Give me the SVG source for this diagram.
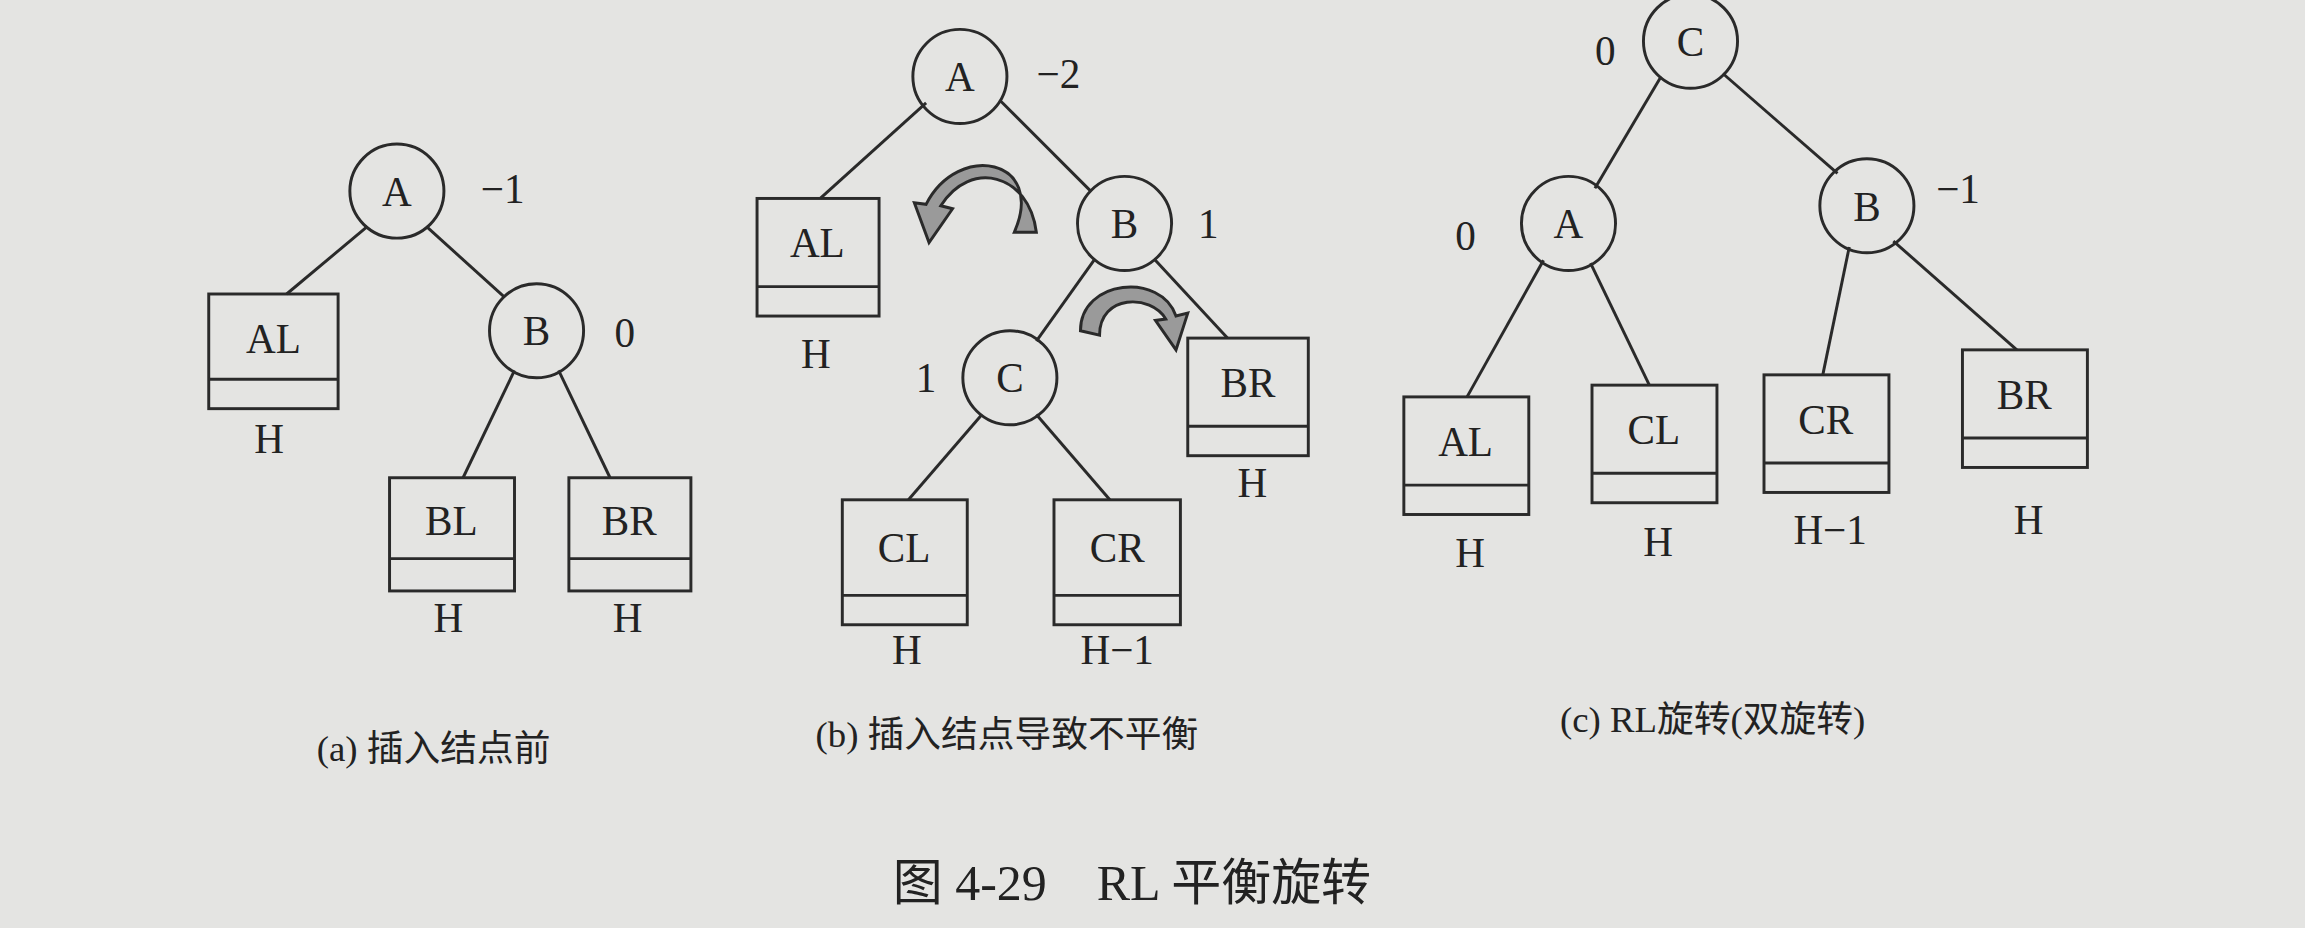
<svg xmlns="http://www.w3.org/2000/svg" width="2305" height="928" viewBox="0 0 2305 928">
<style>
.n circle{fill:none;stroke:#2a2a2a;stroke-width:2}
.b rect,.b line{fill:none;stroke:#2a2a2a;stroke-width:2}
#edges line{stroke:#2a2a2a;stroke-width:2}
text{font-family:"Liberation Serif","Noto Sans CJK SC",serif;fill:#222;font-size:28px;text-anchor:middle}
.cap{font-size:25px}
.ttl{font-size:34px}
.arr{fill:#9a9a9a;stroke:#2a2a2a;stroke-width:2}
</style>
<rect width="2305" height="928" fill="#e4e4e2"/>
<g transform="scale(1.47)">
<g id="edges">
<line x1="250" y1="154" x2="195" y2="200"/><line x1="290" y1="154" x2="343" y2="202"/>
<line x1="350" y1="252" x2="315" y2="325"/><line x1="380" y1="252" x2="415" y2="325"/>
<line x1="630" y1="70" x2="558" y2="135"/><line x1="680" y1="68" x2="742" y2="130"/>
<line x1="745" y1="176" x2="705" y2="232"/><line x1="785" y1="176" x2="835" y2="230"/>
<line x1="668" y1="282" x2="618" y2="340"/><line x1="705" y1="282" x2="755" y2="340"/>
<line x1="1130" y1="52" x2="1085" y2="128"/><line x1="1172" y1="50" x2="1250" y2="118"/>
<line x1="1050" y1="177" x2="998" y2="270"/><line x1="1082" y1="179" x2="1122" y2="262"/>
<line x1="1258" y1="168" x2="1240" y2="255"/><line x1="1288" y1="164" x2="1372" y2="238"/>
</g>
<g id="nA1" class="n"><circle cx="270" cy="130" r="32"/><text x="270" y="140">A</text><text x="342" y="138">−1</text></g>
<g id="nB1" class="n"><circle cx="365" cy="225" r="32"/><text x="365" y="235">B</text><text x="425" y="236">0</text></g>
<g id="bAL1" class="b"><rect x="142" y="200" width="88" height="78"/><line x1="142" y1="258" x2="230" y2="258"/><text x="186" y="240">AL</text><text x="183" y="308">H</text></g>
<g id="bBL1" class="b"><rect x="265" y="325" width="85" height="77"/><line x1="265" y1="380" x2="350" y2="380"/><text x="307" y="364">BL</text><text x="305" y="430">H</text></g>
<g id="bBR1" class="b"><rect x="387" y="325" width="83" height="77"/><line x1="387" y1="380" x2="470" y2="380"/><text x="428" y="364">BR</text><text x="427" y="430">H</text></g>
<text class="cap" x="295" y="518">(a) 插入结点前</text>

<g id="nA2" class="n"><circle cx="653" cy="52" r="32"/><text x="653" y="62">A</text><text x="720" y="60">−2</text></g>
<g id="nB2" class="n"><circle cx="765" cy="152" r="32"/><text x="765" y="162">B</text><text x="822" y="162">1</text></g>
<g id="nC2" class="n"><circle cx="687" cy="257" r="32"/><text x="687" y="267">C</text><text x="630" y="267">1</text></g>
<g id="bAL2" class="b"><rect x="515" y="135" width="83" height="80"/><line x1="515" y1="195" x2="598" y2="195"/><text x="556" y="175">AL</text><text x="555" y="250">H</text></g>
<g id="bBR2" class="b"><rect x="808" y="230" width="82" height="80"/><line x1="808" y1="290" x2="890" y2="290"/><text x="849" y="270">BR</text><text x="852" y="338">H</text></g>
<g id="bCL2" class="b"><rect x="573" y="340" width="85" height="85"/><line x1="573" y1="405" x2="658" y2="405"/><text x="615" y="382">CL</text><text x="617" y="452">H</text></g>
<g id="bCR2" class="b"><rect x="717" y="340" width="86" height="85"/><line x1="717" y1="405" x2="803" y2="405"/><text x="760" y="382">CR</text><text x="760" y="452">H−1</text></g>
<path class="arr" d="M705,158 C700,118 660,108 640,140 L648,142 L632,165 L622,138 L630,139 C652,96 712,108 690,158 Z"/>
<path class="arr" d="M735,225 C735,190 790,185 800,215 L808,213 L800,238 L786,218 L793,217 C783,200 748,200 748,228 Z"/>
<text class="cap" x="685" y="508">(b) 插入结点导致不平衡</text>

<g id="nC3" class="n"><circle cx="1150" cy="28" r="32"/><text x="1150" y="38">C</text><text x="1092" y="44">0</text></g>
<g id="nA3" class="n"><circle cx="1067" cy="152" r="32"/><text x="1067" y="162">A</text><text x="997" y="170">0</text></g>
<g id="nB3" class="n"><circle cx="1270" cy="140" r="32"/><text x="1270" y="150">B</text><text x="1332" y="138">−1</text></g>
<g id="bAL3" class="b"><rect x="955" y="270" width="85" height="80"/><line x1="955" y1="330" x2="1040" y2="330"/><text x="997" y="310">AL</text><text x="1000" y="386">H</text></g>
<g id="bCL3" class="b"><rect x="1083" y="262" width="85" height="80"/><line x1="1083" y1="322" x2="1168" y2="322"/><text x="1125" y="302">CL</text><text x="1128" y="378">H</text></g>
<g id="bCR3" class="b"><rect x="1200" y="255" width="85" height="80"/><line x1="1200" y1="315" x2="1285" y2="315"/><text x="1242" y="295">CR</text><text x="1245" y="370">H−1</text></g>
<g id="bBR3" class="b"><rect x="1335" y="238" width="85" height="80"/><line x1="1335" y1="298" x2="1420" y2="298"/><text x="1377" y="278">BR</text><text x="1380" y="363">H</text></g>
<text class="cap" x="1165" y="498">(c) RL旋转(双旋转)</text>
<text class="ttl" x="770" y="612">图 4-29　RL 平衡旋转</text>
</g>
</svg>
